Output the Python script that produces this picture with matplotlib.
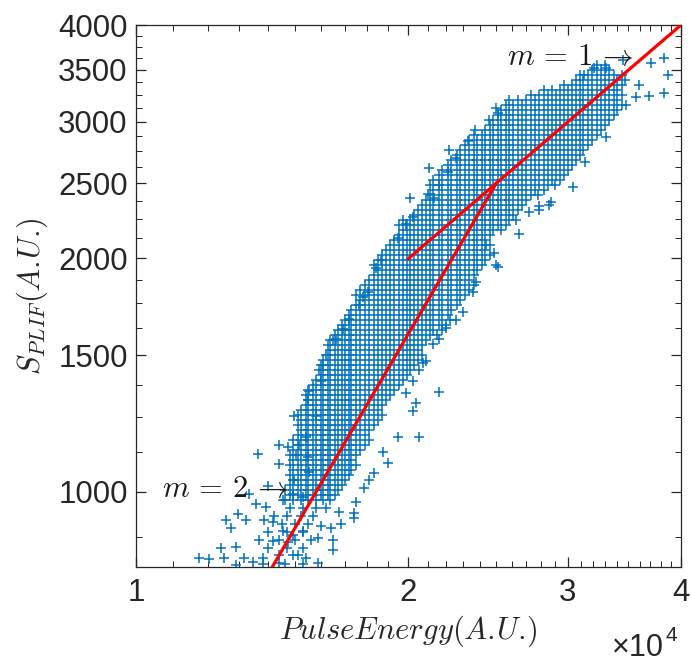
import matplotlib
matplotlib.use("Agg")
import matplotlib.pyplot as plt
import numpy as np
from matplotlib.ticker import FixedLocator, NullFormatter

plt.rcParams["mathtext.fontset"] = "cm"

# dense part of the cloud, read row by row: (S_PLIF, [pulse energy / 1e4, ...])
upper_rows = [
    (3552, [3.23, 3.30]),
    (3500, [3.19, 3.26, 3.33]),
    (3449, [3.09, 3.16, 3.23, 3.30, 3.37, 3.44]),
    (3398, [3.06, 3.12, 3.19, 3.26, 3.33, 3.40, 3.47]),
    (3348, [2.97, 3.03, 3.09, 3.16, 3.23, 3.30, 3.37, 3.44]),
    (3298, [2.82, 2.88, 2.94, 3.00, 3.06, 3.12, 3.19, 3.26, 3.33, 3.40]),
    (3250, [2.73, 2.79, 2.85, 2.91, 2.97, 3.03, 3.09, 3.16, 3.23, 3.30, 3.37, 3.44]),
    (3202, [2.58, 2.64, 2.70, 2.76, 2.82, 2.88, 2.94, 3.00, 3.06, 3.12, 3.19, 3.26, 3.33, 3.40]),
    (3155, [2.56, 2.61, 2.67, 2.73, 2.79, 2.85, 2.91, 2.97, 3.03, 3.09, 3.16, 3.23, 3.30, 3.37, 3.44]),
    (3108, [2.53, 2.58, 2.64, 2.70, 2.76, 2.82, 2.88, 2.94, 3.00, 3.06, 3.12, 3.19, 3.26, 3.33, 3.40]),
    (3063, [2.51, 2.56, 2.61, 2.67, 2.73, 2.79, 2.85, 2.91, 2.97, 3.03, 3.09, 3.16, 3.23, 3.30, 3.37]),
    (3018, [2.48, 2.53, 2.58, 2.64, 2.70, 2.76, 2.82, 2.88, 2.94, 3.00, 3.06, 3.12, 3.19, 3.26, 3.33]),
    (2973, [2.46, 2.51, 2.56, 2.61, 2.67, 2.73, 2.79, 2.85, 2.91, 2.97, 3.03, 3.09, 3.16, 3.23, 3.30]),
    (2929, [2.43, 2.48, 2.53, 2.58, 2.64, 2.70, 2.76, 2.82, 2.88, 2.94, 3.00, 3.06, 3.12, 3.19, 3.26]),
    (2886, [2.36, 2.41, 2.46, 2.51, 2.56, 2.61, 2.67, 2.73, 2.79, 2.85, 2.91, 2.97, 3.03, 3.09, 3.16,
            3.23]),
    (2844, [2.33, 2.38, 2.43, 2.48, 2.53, 2.58, 2.64, 2.70, 2.76, 2.82, 2.88, 2.94, 3.00, 3.06, 3.12,
            3.19]),
    (2802, [2.31, 2.36, 2.41, 2.46, 2.51, 2.56, 2.61, 2.67, 2.73, 2.79, 2.85, 2.91, 2.97, 3.03, 3.09,
            3.16]),
    (2760, [2.28, 2.33, 2.38, 2.43, 2.48, 2.53, 2.58, 2.64, 2.70, 2.76, 2.82, 2.88, 2.94, 3.00, 3.06,
            3.12]),
    (2720, [2.26, 2.31, 2.36, 2.41, 2.46, 2.51, 2.56, 2.61, 2.67, 2.73, 2.79, 2.85, 2.91, 2.97, 3.03,
            3.09]),
    (2680, [2.23, 2.28, 2.33, 2.38, 2.43, 2.48, 2.53, 2.58, 2.64, 2.70, 2.76, 2.82, 2.88, 2.94, 3.00,
            3.06]),
    (2640, [2.21, 2.26, 2.31, 2.36, 2.41, 2.46, 2.51, 2.56, 2.61, 2.67, 2.73, 2.79, 2.85, 2.91, 2.97,
            3.03]),
    (2601, [2.18, 2.23, 2.28, 2.33, 2.38, 2.43, 2.48, 2.53, 2.58, 2.64, 2.70, 2.76, 2.82, 2.88, 2.94,
            3.00]),
    (2563, [2.16, 2.21, 2.26, 2.31, 2.36, 2.41, 2.46, 2.51, 2.56, 2.61, 2.67, 2.73, 2.79, 2.85, 2.91,
            2.97]),
    (2525, [2.13, 2.18, 2.23, 2.28, 2.33, 2.38, 2.43, 2.48, 2.53, 2.58, 2.64, 2.70, 2.76, 2.82, 2.88,
            2.94]),
    (2488, [2.11, 2.16, 2.21, 2.26, 2.31, 2.36, 2.41, 2.46, 2.51, 2.56, 2.61, 2.67, 2.73, 2.79, 2.85,
            2.90]),
    (2451, [2.13, 2.18, 2.23, 2.28, 2.33, 2.38, 2.43, 2.48, 2.53, 2.58, 2.64, 2.70, 2.76, 2.82]),
    (2415, [2.11, 2.16, 2.21, 2.26, 2.31, 2.36, 2.41, 2.46, 2.51, 2.56, 2.61, 2.67, 2.73, 2.78]),
    (2380, [2.09, 2.13, 2.18, 2.23, 2.28, 2.33, 2.38, 2.43, 2.48, 2.53, 2.58, 2.64, 2.70]),
]

middle_rows = [
    (2345, [2.07, 2.11, 2.16, 2.21, 2.26, 2.31, 2.36, 2.41, 2.46, 2.51, 2.56, 2.61, 2.67]),
    (2310, [2.05, 2.09, 2.13, 2.18, 2.23, 2.28, 2.33, 2.38, 2.43, 2.48, 2.53, 2.58, 2.64]),
    (2276, [2.03, 2.07, 2.11, 2.16, 2.21, 2.26, 2.31, 2.36, 2.41, 2.46, 2.51, 2.56, 2.61]),
    (2243, [1.97, 2.01, 2.05, 2.09, 2.13, 2.18, 2.23, 2.28, 2.33, 2.38, 2.43, 2.48, 2.53, 2.58]),
    (2210, [1.95, 1.99, 2.03, 2.07, 2.11, 2.16, 2.21, 2.26, 2.31, 2.36, 2.41, 2.46, 2.51, 2.56]),
    (2177, [1.97, 2.01, 2.05, 2.09, 2.13, 2.18, 2.23, 2.28, 2.33, 2.38, 2.43, 2.48, 2.53]),
    (2145, [1.95, 1.99, 2.03, 2.07, 2.11, 2.16, 2.21, 2.26, 2.31, 2.36, 2.41, 2.46]),
    (2113, [1.93, 1.97, 2.01, 2.05, 2.09, 2.13, 2.18, 2.23, 2.28, 2.33, 2.38, 2.43]),
    (2082, [1.91, 1.95, 1.99, 2.03, 2.07, 2.11, 2.16, 2.21, 2.26, 2.31, 2.36, 2.41, 2.46]),
    (2052, [1.89, 1.93, 1.97, 2.01, 2.05, 2.09, 2.13, 2.18, 2.23, 2.28, 2.33, 2.38, 2.43]),
    (2021, [1.87, 1.91, 1.95, 1.99, 2.03, 2.07, 2.11, 2.16, 2.21, 2.26, 2.31, 2.36, 2.41, 2.46]),
    (1992, [1.85, 1.89, 1.93, 1.97, 2.01, 2.05, 2.09, 2.13, 2.18, 2.23, 2.28, 2.33, 2.38, 2.43]),
    (1962, [1.83, 1.87, 1.91, 1.95, 1.99, 2.03, 2.07, 2.11, 2.16, 2.21, 2.26, 2.31, 2.36, 2.41]),
    (1933, [1.85, 1.89, 1.93, 1.97, 2.01, 2.05, 2.09, 2.13, 2.18, 2.23, 2.28, 2.33, 2.38]),
    (1905, [1.83, 1.87, 1.91, 1.95, 1.99, 2.03, 2.07, 2.11, 2.16, 2.21, 2.26, 2.31, 2.36]),
    (1877, [1.81, 1.85, 1.89, 1.93, 1.97, 2.01, 2.05, 2.09, 2.13, 2.18, 2.23, 2.28, 2.33]),
    (1849, [1.79, 1.83, 1.87, 1.91, 1.95, 1.99, 2.03, 2.07, 2.11, 2.16, 2.21, 2.26, 2.31, 2.36]),
    (1822, [1.77, 1.81, 1.85, 1.89, 1.93, 1.97, 2.01, 2.05, 2.09, 2.13, 2.18, 2.23, 2.28, 2.33]),
    (1795, [1.75, 1.79, 1.83, 1.87, 1.91, 1.95, 1.99, 2.03, 2.07, 2.11, 2.16, 2.21, 2.26, 2.31]),
    (1769, [1.77, 1.81, 1.85, 1.89, 1.93, 1.97, 2.01, 2.05, 2.09, 2.13, 2.18, 2.23, 2.28]),
    (1743, [1.75, 1.79, 1.83, 1.87, 1.91, 1.95, 1.99, 2.03, 2.07, 2.11, 2.16, 2.21, 2.26]),
    (1717, [1.73, 1.77, 1.81, 1.85, 1.89, 1.93, 1.97, 2.01, 2.05, 2.09, 2.13, 2.18, 2.23]),
    (1692, [1.72, 1.75, 1.79, 1.83, 1.87, 1.91, 1.95, 1.99, 2.03, 2.07, 2.11, 2.16, 2.21]),
    (1667, [1.70, 1.73, 1.77, 1.81, 1.85, 1.89, 1.93, 1.97, 2.01, 2.05, 2.09, 2.13, 2.18, 2.22]),
    (1642, [1.69, 1.72, 1.75, 1.79, 1.83, 1.87, 1.91, 1.95, 1.99, 2.03, 2.07, 2.11, 2.16, 2.20]),
    (1618, [1.67, 1.70, 1.73, 1.77, 1.81, 1.85, 1.89, 1.93, 1.97, 2.01, 2.05, 2.09, 2.13, 2.18]),
    (1594, [1.66, 1.69, 1.72, 1.75, 1.79, 1.83, 1.87, 1.91, 1.95, 1.99, 2.03, 2.07, 2.11, 2.15]),
    (1571, [1.64, 1.67, 1.70, 1.73, 1.77, 1.81, 1.85, 1.89, 1.93, 1.97, 2.01, 2.05, 2.09]),
    (1548, [1.63, 1.66, 1.69, 1.72, 1.75, 1.79, 1.83, 1.87, 1.91, 1.95, 1.99, 2.03, 2.07]),
    (1525, [1.64, 1.67, 1.70, 1.73, 1.77, 1.81, 1.85, 1.89, 1.93, 1.97, 2.01, 2.05]),
    (1502, [1.63, 1.66, 1.69, 1.72, 1.75, 1.79, 1.83, 1.87, 1.91, 1.95, 1.99, 2.03, 2.07]),
    (1480, [1.61, 1.64, 1.67, 1.70, 1.73, 1.77, 1.81, 1.85, 1.89, 1.93, 1.97, 2.01, 2.05]),
    (1458, [1.60, 1.63, 1.66, 1.69, 1.72, 1.75, 1.79, 1.83, 1.87, 1.91, 1.95, 1.99, 2.03]),
    (1437, [1.61, 1.64, 1.67, 1.70, 1.73, 1.77, 1.81, 1.85, 1.89, 1.93, 1.97, 2.01]),
    (1416, [1.60, 1.63, 1.66, 1.69, 1.72, 1.75, 1.79, 1.83, 1.87, 1.91, 1.95, 1.99]),
    (1395, [1.58, 1.61, 1.64, 1.67, 1.70, 1.73, 1.77, 1.81, 1.85, 1.89, 1.93, 1.97]),
]

lower_rows = [
    (1374, [1.57, 1.60, 1.63, 1.66, 1.69, 1.72, 1.75, 1.79, 1.83, 1.87, 1.91, 1.95]),
    (1354, [1.55, 1.58, 1.61, 1.64, 1.67, 1.70, 1.73, 1.77, 1.81, 1.85, 1.89, 1.93]),
    (1334, [1.54, 1.57, 1.60, 1.63, 1.66, 1.69, 1.72, 1.75, 1.79, 1.83, 1.87, 1.91]),
    (1315, [1.55, 1.58, 1.61, 1.64, 1.67, 1.70, 1.73, 1.77, 1.81, 1.85, 1.89]),
    (1295, [1.54, 1.57, 1.60, 1.63, 1.66, 1.69, 1.72, 1.75, 1.79, 1.83, 1.87]),
    (1276, [1.52, 1.55, 1.58, 1.61, 1.64, 1.67, 1.70, 1.73, 1.77, 1.81, 1.85]),
    (1257, [1.51, 1.54, 1.57, 1.60, 1.63, 1.66, 1.69, 1.72, 1.75, 1.79, 1.83, 1.87]),
    (1239, [1.52, 1.55, 1.58, 1.61, 1.64, 1.67, 1.70, 1.73, 1.77, 1.81, 1.85]),
    (1221, [1.51, 1.54, 1.57, 1.60, 1.63, 1.66, 1.69, 1.72, 1.75, 1.79, 1.83]),
    (1203, [1.52, 1.55, 1.58, 1.61, 1.64, 1.67, 1.70, 1.73, 1.77, 1.81]),
    (1185, [1.51, 1.54, 1.57, 1.60, 1.63, 1.66, 1.69, 1.72, 1.75, 1.79]),
    (1168, [1.49, 1.52, 1.55, 1.58, 1.61, 1.64, 1.67, 1.70, 1.73, 1.77, 1.81]),
    (1150, [1.51, 1.54, 1.57, 1.60, 1.63, 1.66, 1.69, 1.72, 1.75, 1.79]),
    (1133, [1.49, 1.52, 1.55, 1.58, 1.61, 1.64, 1.67, 1.70, 1.73, 1.77]),
    (1117, [1.48, 1.51, 1.54, 1.57, 1.60, 1.63, 1.66, 1.69, 1.72, 1.75]),
    (1100, [1.49, 1.52, 1.55, 1.58, 1.61, 1.64, 1.67, 1.70, 1.73]),
    (1084, [1.48, 1.51, 1.54, 1.57, 1.60, 1.63, 1.66, 1.69, 1.72, 1.75]),
    (1068, [1.49, 1.52, 1.55, 1.58, 1.61, 1.64, 1.67, 1.70, 1.73]),
    (1052, [1.48, 1.51, 1.54, 1.57, 1.60, 1.63, 1.66, 1.69, 1.72]),
    (1037, [1.49, 1.52, 1.55, 1.58, 1.61, 1.64, 1.67, 1.70]),
    (1022, [1.48, 1.51, 1.54, 1.57, 1.60, 1.63, 1.66, 1.69]),
    (1007, [1.46, 1.49, 1.52, 1.55, 1.58, 1.61, 1.64, 1.67]),
    (992, [1.48, 1.51, 1.54, 1.57, 1.60, 1.63, 1.66]),
    (977, [1.46, 1.49, 1.52, 1.55, 1.58, 1.61, 1.64]),
    (954, [1.48, 1.53, 1.58, 1.62]),
    (932, [1.42, 1.47, 1.52, 1.57]),
    (910, [1.45, 1.50, 1.55]),
    (888, [1.40, 1.47, 1.53]),
    (868, [1.44, 1.50, 1.56]),
    (847, [1.40, 1.47, 1.53]),
    (828, [1.44, 1.51]),
    (808, [1.38, 1.46, 1.53]),
]

# scattered points around the band: (pulse energy / 1e4, S_PLIF)
stray_points = [
    (1.553, 1350), (1.549, 1315), (1.494, 1252), (1.581, 1252), (1.364, 1119), (1.439, 1085),
    (1.439, 1151), (1.472, 1141), (1.514, 1151), (1.541, 1178), (1.502, 1116), (1.549, 1110),
    (1.399, 1019), (1.494, 1037), (1.553, 1061), (1.333, 995), (1.357, 966), (1.392, 957),
    (1.453, 977), (1.491, 995), (1.529, 986), (1.296, 936), (1.323, 921), (1.257, 921),
    (1.273, 899), (1.385, 921), (1.417, 915), (1.453, 889), (1.491, 881), (1.529, 889),
    (1.367, 868), (1.417, 863), (1.472, 861), (1.242, 846), (1.290, 848), (1.174, 822),
    (1.204, 820), (1.251, 822), (1.316, 822), (1.347, 812), (1.381, 822), (1.439, 810),
    (1.491, 829), (1.541, 822), (1.589, 810), (1.290, 805),
    (2.162, 1346), (2.039, 1303), (2.024, 1273), (1.987, 1342), (1.948, 1178), (2.055, 1178),
    (1.898, 1090), (1.874, 1125), (1.831, 1058), (1.809, 1037), (1.786, 1013), (1.750, 970),
    (1.741, 938), (1.741, 924), (1.676, 941), (1.684, 910), (1.643, 899), (1.651, 868),
    (1.651, 842), (1.601, 904), (1.589, 873),
    (1.865, 1992), (1.948, 2127), (1.987, 2213), (2.024, 2264), (1.805, 1811), (1.764, 1740),
    (1.694, 1620), (1.651, 1571), (1.610, 1459), (1.601, 1391),
    (1.842, 1945), (1.782, 1781), (1.719, 1672), (1.663, 1575), (1.621, 1503), (1.593, 1434),
    (2.486, 2032), (2.496, 1961), (2.356, 1811), (2.297, 1707), (2.201, 1626), (2.130, 1549),
    (2.092, 1473), (2.052, 1434), (2.024, 1391),
    (2.437, 2082), (2.377, 1865), (2.257, 1667), (2.162, 1575), (2.075, 1465),
    (2.513, 3077), (2.371, 2929), (2.218, 2760), (2.108, 2613), (2.008, 2390), (2.102, 2425),
    (2.135, 2395), (2.499, 3127), (2.455, 3015), (2.329, 2831), (2.257, 2695), (2.211, 2585),
    (2.162, 2485),
    (3.834, 3625), (3.709, 3571), (3.873, 3446), (3.595, 3346), (3.834, 3266), (3.688, 3236),
    (3.568, 3226), (3.479, 3150), (3.452, 3605), (3.305, 3524), (3.205, 3524), (3.125, 3446),
    (3.040, 2474), (3.133, 2666), (2.874, 2364), (2.788, 2335), (3.305, 2869),
    (2.650, 2150), (2.718, 2296), (2.788, 2310), (2.512, 1951), (2.630, 2243), (2.860, 2347),
]

# fitted slopes on the log-log axes
m1_energy = [2.0e4, 4.0e4]
m1_signal = [2000, 4000]
m2_energy = [1.4e4, 2.5e4]
m2_signal = [784, 2500]

x_major = [1e4, 2e4, 3e4, 4e4]
x_labels = ["1", "2", "3", "4"]
y_major = [1000, 1500, 2000, 2500, 3000, 3500, 4000]

axis_col = "#262626"
tick_font = "Liberation Sans"

rows = upper_rows + middle_rows + lower_rows
row_x = np.concatenate([np.asarray(xs, float) for _, xs in rows])
row_y = np.concatenate([np.full(len(xs), s, float) for s, xs in rows])
stray = np.asarray(stray_points, float)
energy = np.concatenate([row_x, stray[:, 0]]) * 1e4
signal = np.concatenate([row_y, stray[:, 1]])

fig = plt.figure(figsize=(6.91, 6.62), dpi=100)
ax = fig.add_axes([0.1968, 0.1435, 0.7887, 0.8187])
ax.plot(energy, signal, "+", color="#0072BD", ms=7.3, mew=1.1, zorder=2)
ax.plot(m1_energy, m1_signal, "-", color="red", lw=2.3, zorder=3)
ax.plot(m2_energy, m2_signal, "-", color="red", lw=2.3, zorder=3)

ax.set_xscale("log")
ax.set_yscale("log")
ax.set_xlim(1e4, 4e4)
ax.set_ylim(800, 4000)

ax.xaxis.set_major_locator(FixedLocator(x_major))
ax.set_xticklabels(x_labels)
ax.xaxis.set_minor_locator(FixedLocator([v * 1e3 for v in range(11, 40) if v % 10]))
ax.xaxis.set_minor_formatter(NullFormatter())
ax.yaxis.set_major_locator(FixedLocator(y_major))
ax.set_yticklabels([str(v) for v in y_major])
ax.yaxis.set_minor_locator(FixedLocator([v for v in range(875, 4000, 125) if v % 500]))
ax.yaxis.set_minor_formatter(NullFormatter())

ax.tick_params(which="both", direction="in", top=True, right=True, color=axis_col,
               labelcolor=axis_col, labelsize=22.5)
ax.tick_params(axis="x", pad=8)
ax.tick_params(axis="y", pad=6)
ax.tick_params(which="major", length=7, width=0.9)
ax.tick_params(which="minor", length=4, width=0.7)
for lab in ax.get_xticklabels() + ax.get_yticklabels():
    lab.set_family(tick_font)
for sp in ax.spines.values():
    sp.set_color(axis_col)
    sp.set_linewidth(0.9)

ax.set_xlabel(r"$PulseEnergy(A.\!U.\!)$", fontsize=22, color=axis_col, labelpad=4)
ax.set_ylabel(r"$S_{PLIF}(A.\!U.\!)$", fontsize=22, color=axis_col, labelpad=6)

ax.text(2.57e4, 3552, r"$m\,=\,1\,\rightarrow$", fontsize=22, va="baseline", ha="left",
        color="#1a1a1a", zorder=4)
ax.text(1.068e4, 986, r"$m\,=\,2\,\rightarrow$", fontsize=22, va="baseline", ha="left",
        color="#1a1a1a", zorder=4)

fig.text(612 / 691, 1 - 656 / 662, "\u00d710", fontsize=22, family=tick_font,
         color=axis_col, ha="left", va="baseline")
fig.text(665 / 691, 1 - 641 / 662, "4", fontsize=15, family=tick_font,
         color=axis_col, ha="left", va="baseline")

fig.savefig("out.png", dpi=100)
